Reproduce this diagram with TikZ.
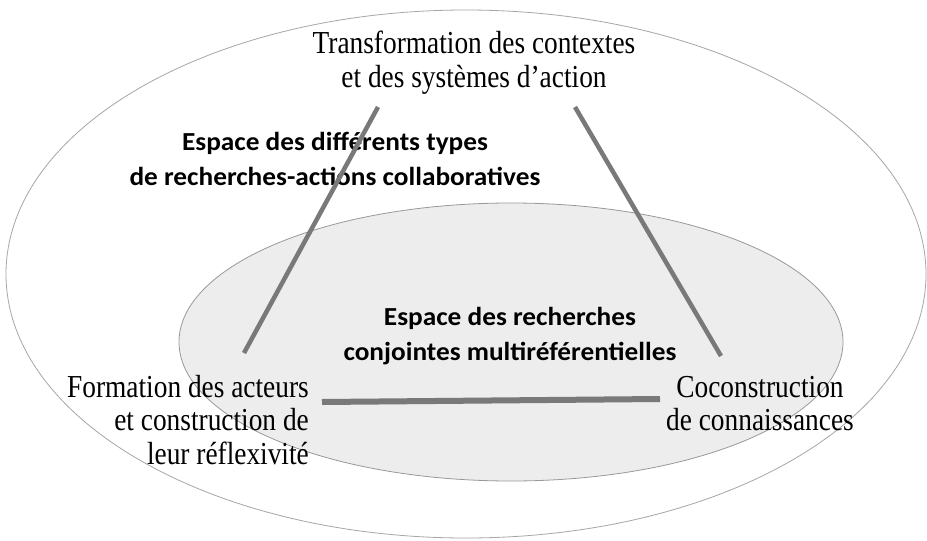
\documentclass[tikz,border=0pt]{standalone}
\usepackage{fontspec}
\setmainfont{Liberation Serif}
\newfontfamily\cserif[FakeStretch=0.855]{Liberation Serif}
\newfontfamily\boldsans[FakeStretch=1.05]{Carlito}
\begin{document}
\begin{tikzpicture}[x=1pt,y=-1pt,
  serif/.style={font=\cserif\fontsize{32}{33.5}\selectfont, inner sep=0pt},
  boldlab/.style={font=\boldsans\bfseries\fontsize{26}{35}\selectfont, inner sep=0pt, align=center},
  link/.style={draw=gray!95!black, line width=4.5pt},
  baselink/.style={draw=gray!95!black, line width=6pt}]
\useasboundingbox[fill=white] (0,0) rectangle (927,541);
\draw[draw=black!35, line width=0.8pt] (466,274) ellipse [x radius=460, y radius=264];
\draw[draw=black!40, fill=black!7, line width=0.8pt] (511,342) ellipse [x radius=332, y radius=139];
\node[serif, align=center, anchor=base] (top) at (474,87) {Transformation des contextes\\et des systèmes d’action};
\node[boldlab, anchor=base] (outer) at (335,185) {Espace des différents types\\de recherches-actions collaboratives};
\node[boldlab, anchor=base] (inner) at (510,360) {Espace des recherches\\conjointes multiréférentielles};
\node[serif, align=right, anchor=base east] (form) at (309,464) {Formation des acteurs\\et construction de\\leur réflexivité};
\node[serif, align=center, anchor=base] (cocon) at (760,430.5) {Coconstruction\\de connaissances};
\coordinate (l1) at (378,107);
\coordinate (l2) at (244,353);
\coordinate (r1) at (575,107);
\coordinate (r2) at (721,356);
\coordinate (b1) at (322,402);
\coordinate (b2) at (660,399);
\draw[link] (l1) -- (l2);
\draw[link] (r1) -- (r2);
\draw[baselink] (b1) -- (b2);
\end{tikzpicture}
\end{document}
